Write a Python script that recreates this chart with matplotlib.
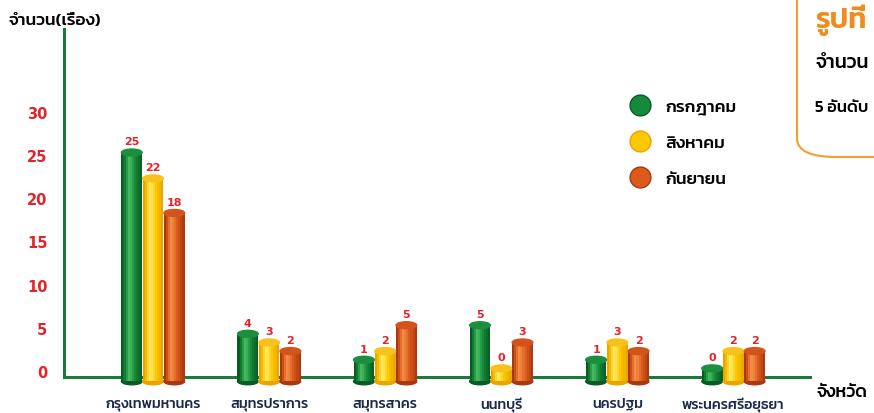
import numpy as np
import matplotlib
matplotlib.use("Agg")
import matplotlib.pyplot as plt
from matplotlib import font_manager
from matplotlib.patches import Ellipse, FancyBboxPatch
from matplotlib.lines import Line2D

# data
provinces = ["กรุงเทพมหานคร", "สมุทรปราการ", "สมุทรสาคร", "นนทบุรี", "นครปฐม", "พระนครศรีอยุธยา"]
months = ["กรกฎาคม", "สิงหาคม", "กันยายน"]
jul = [25, 4, 1, 5, 1, 0]
aug = [22, 3, 2, 0, 3, 2]
sep = [18, 2, 5, 3, 2, 2]
yticks = [0, 5, 10, 15, 20, 25, 30]

# thai font (Kanit if present)
names = set(f.name for f in font_manager.fontManager.ttflist)
thai = "Kanit"
for name in ["Kanit", "Prompt", "Noto Sans Thai", "Loma"]:
    if name in names:
        thai = name
        break
plt.rcParams['font.family'] = [thai, 'DejaVu Sans']

# shades: dark edge, mid, light highlight, top ellipse
shades = [
    ["#075c22", "#16893a", "#45b860", "#1c8f3e"],
    ["#e9a400", "#fcc800", "#ffe866", "#f8c21c"],
    ["#a8380f", "#dc5a1c", "#f08c44", "#d2531c"],
]

fig = plt.figure(figsize=(8.74, 4.14), dpi=100)
ax = fig.add_axes([64 / 874, 36 / 414, (810 - 64) / 874, 348 / 414])
ax.set_xlim(-0.767, 5.66)
ax.set_ylim(-0.7, 39.6)

x = np.arange(len(provinces))
bw = 0.178
offsets = [-0.183, 0, 0.183]
base = -1.2
eh = 0.8

# cylinder shading profile across the bar
n = 10
prof = np.array([0.0, 0.35, 0.7, 1.0, 0.9, 0.7, 0.5, 0.35, 0.2, 0.05])


def mix(c1, c2, t):
    a = np.array(matplotlib.colors.to_rgb(c1))
    b = np.array(matplotlib.colors.to_rgb(c2))
    return a + (b - a) * t


for k, vals in enumerate([jul, aug, sep]):
    dark, mid, light, top = shades[k]
    for i, v in enumerate(vals):
        cx = x[i] + offsets[k]
        h = v + 0.3 - base
        for j in range(n):
            t = prof[j]
            col = mix(dark, mid, t * 2) if t < 0.5 else mix(mid, light, (t - 0.5) * 2)
            ax.bar(cx - bw / 2 + (j + 0.5) * bw / n, h, width=bw / n * 1.05, bottom=base,
                   color=col, linewidth=0, clip_on=False, zorder=3)
        ax.add_patch(Ellipse((cx, base), bw, eh, color=dark, zorder=2, clip_on=False))
        ax.add_patch(Ellipse((cx, v + 0.3), bw, eh, color=top, zorder=4, clip_on=False))
        ax.text(cx, v + 1.0, str(v), color="#e0242a", fontsize=8, fontweight="bold",
                ha="center", va="bottom", family="DejaVu Sans", zorder=5)

# axes lines
for s in ["top", "right"]:
    ax.spines[s].set_visible(False)
ax.spines["left"].set_color("#1d7a3f")
ax.spines["bottom"].set_color("#1d7a3f")
ax.spines["left"].set_linewidth(2.2)
ax.spines["bottom"].set_linewidth(2.2)
ax.spines["bottom"].set_zorder(1)

ax.set_yticks(yticks)
ax.set_yticklabels([str(t) for t in yticks], color="#e0242a", fontsize=10.5,
                   fontweight="bold", family="DejaVu Sans")
ax.tick_params(axis="y", length=0, pad=12)
ax.set_xticks(x)
ax.set_xticklabels(provinces, fontsize=10.3, fontweight=500, color="#1a2a4a")
for lbl in ax.get_xticklabels():
    lbl.set_va("center_baseline")
ax.tick_params(axis="x", length=0, pad=18)

fig.text(8 / 874, 1 - 21 / 414, "จำนวน(เรื่อง)", fontsize=12.5, fontweight=500, va="center")
fig.text(816 / 874, 1 - 393 / 414, "จังหวัด", fontsize=13, fontweight=500, va="center")

# legend
handles = [Line2D([], [], marker="o", ls="", ms=15, color=shades[k][1],
                  markeredgecolor=shades[k][0]) for k in range(3)]
leg = ax.legend(handles, months, loc="upper left", bbox_to_anchor=(610 / 874, 1 - 84 / 414),
                bbox_transform=fig.transFigure, frameon=False, fontsize=12.5,
                labelspacing=1.2, handletextpad=0.7, handlelength=1.6)
for t in leg.get_texts():
    t.set_fontweight(500)

# caption box at top right
box = FancyBboxPatch((797 / 874, 1 - 158 / 414), 0.3, 0.5, boxstyle="round,pad=0,rounding_size=0.045",
                     transform=fig.transFigure, facecolor="white", edgecolor="#f0a030",
                     linewidth=1.5, figure=fig)
fig.patches.append(box)
fig.text(815 / 874, 1 - 20 / 414, "รูปที่", fontsize=21, fontweight=600, color="#f08c1e", va="center")
fig.text(815 / 874, 1 - 64 / 414, "จำนวน", fontsize=14, fontweight=500, va="center")
fig.text(815 / 874, 1 - 108 / 414, "5 อันดับ", fontsize=12, fontweight=500, va="center")

fig.savefig("out.png", dpi=100)
